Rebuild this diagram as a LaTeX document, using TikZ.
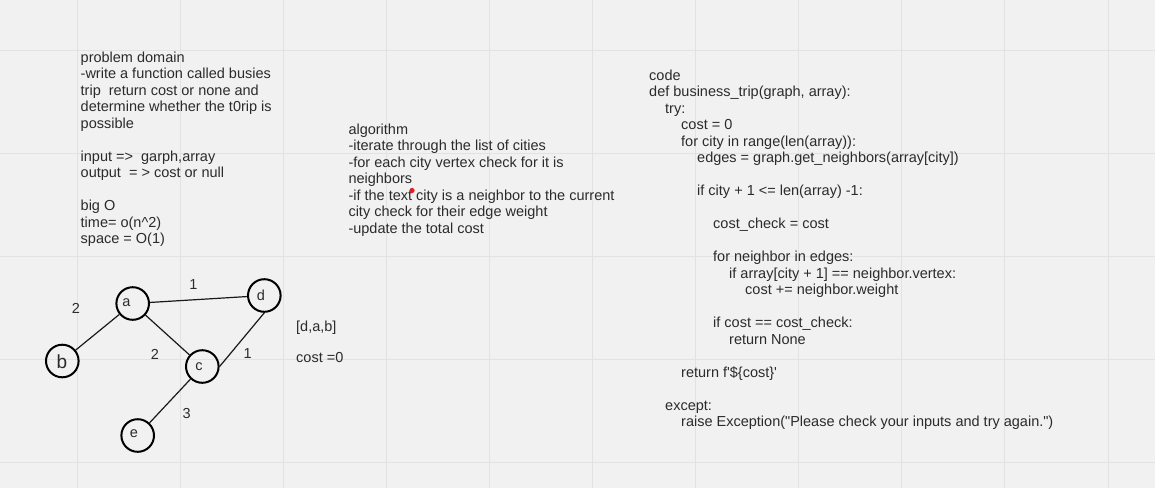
\documentclass[tikz,border=0pt]{standalone}
\usepackage{fontspec}
\setmainfont{Liberation Sans}
\definecolor{bgc}{HTML}{F1F1F1}
\definecolor{gridc}{HTML}{E2E2E2}
\definecolor{txtc}{HTML}{2B2B2B}
\definecolor{dotc}{HTML}{E0201E}
\tikzset{
  gridline/.style={draw=gridc, line width=1pt},
  txtblock/.style={font=\fontsize{14.5}{16.5}\selectfont, align=left, inner sep=0pt, anchor=north west, text=txtc},
  vertex/.style={circle, draw=black, line width=2pt, minimum size=32.6pt, inner sep=0pt},
  vlabel/.style={font=\fontsize{14.5}{16.5}\selectfont, inner sep=0pt, text=txtc},
  edgelabel/.style={font=\fontsize{14.5}{16.5}\selectfont, inner sep=0pt, text=txtc},
  edge/.style={draw=black!90, line width=1.2pt},
}
\begin{document}
\begin{tikzpicture}[x=1pt,y=-1pt]
\useasboundingbox (0,0) rectangle (1155,488);
\fill[bgc] (0,0) rectangle (1155,488);
\foreach \i in {0,...,10} \draw[gridline] ({77+103.1*\i},0) -- ({77+103.1*\i},488);
\foreach \j in {0,...,4} \draw[gridline] (0,{50+103.1*\j}) -- (1155,{50+103.1*\j});

% problem domain
\node[txtblock] (problem) at (80.5,50.6) {\strut problem domain\\
-write a function called busies\\
trip \ return cost or none and\\
determine whether the t0rip is\\
possible\\[16.5pt]
input => \ garph,array\\
output \ = > cost or null\\[16.5pt]
big O\\
time= o(n\textasciicircum 2)\\
space = O(1)};

% algorithm
\node[txtblock] (algorithm) at (348.3,122.4) {\strut algorithm\\
-iterate through the list of cities\\
-for each city vertex check for it is\\
neighbors\\
-if the text city is a neighbor to the current\\
city check for their edge weight\\
-update the total cost};
\fill[dotc] (412,190.5) circle (2.6pt);

% code
\node[txtblock] (code) at (649,68.6) {\strut code\\
def business\_trip(graph, array):\\
\hspace*{16pt}try:\\
\hspace*{32pt}cost = 0\\
\hspace*{32pt}for city in range(len(array)):\\
\hspace*{48pt}edges = graph.get\_neighbors(array[city])\\[16.5pt]
\hspace*{48pt}if city + 1 <= len(array) -1:\\[16.5pt]
\hspace*{64pt}cost\_check = cost\\[16.5pt]
\hspace*{64pt}for neighbor in edges:\\
\hspace*{80pt}if array[city + 1] == neighbor.vertex:\\
\hspace*{96pt}cost += neighbor.weight\\[16.5pt]
\hspace*{64pt}if cost == cost\_check:\\
\hspace*{80pt}return None\\[16.5pt]
\hspace*{32pt}return f\textquotesingle\$\{cost\}\textquotesingle\\[16.5pt]
\hspace*{16pt}except:\\
\hspace*{32pt}raise Exception(\textquotedbl Please check your inputs and try again.\textquotedbl)};

% graph
\node[vertex] (a) at (132.7,303.5) {};
\node[vertex] (b) at (62.3,361) {};
\node[vertex] (c) at (202.3,366.5) {};
\node[vertex] (d) at (264.3,295.5) {};
\node[vertex] (e) at (137.7,435.5) {};
\node[vlabel] (la) at (126.3,302.6) {a};
\node[vlabel, font=\fontsize{19}{22}\selectfont] (lb) at (62,361.5) {b};
\node[vlabel] (lc) at (199,367) {c};
\node[vlabel] (ld) at (261,295) {d};
\node[vlabel] (le) at (134,434) {e};

\draw[edge] (a) -- (d);
\draw[edge] (a) -- (b);
\draw[edge] (a) -- (c);
\draw[edge] (c.east) -- (d.south);
\draw[edge] (c) -- (e);

\node[edgelabel] (w1) at (193.3,284.3) {1};
\node[edgelabel] (w2) at (76,308.3) {2};
\node[edgelabel] (w3) at (155,354.3) {2};
\node[edgelabel] (w4) at (247.7,353.3) {1};
\node[edgelabel] (w5) at (186.7,413.3) {3};

\node[edgelabel, anchor=base west] (path) at (296,331) {[d,a,b]};
\node[edgelabel, anchor=base west] (cost) at (296,362.6) {cost =0};
\end{tikzpicture}
\end{document}
